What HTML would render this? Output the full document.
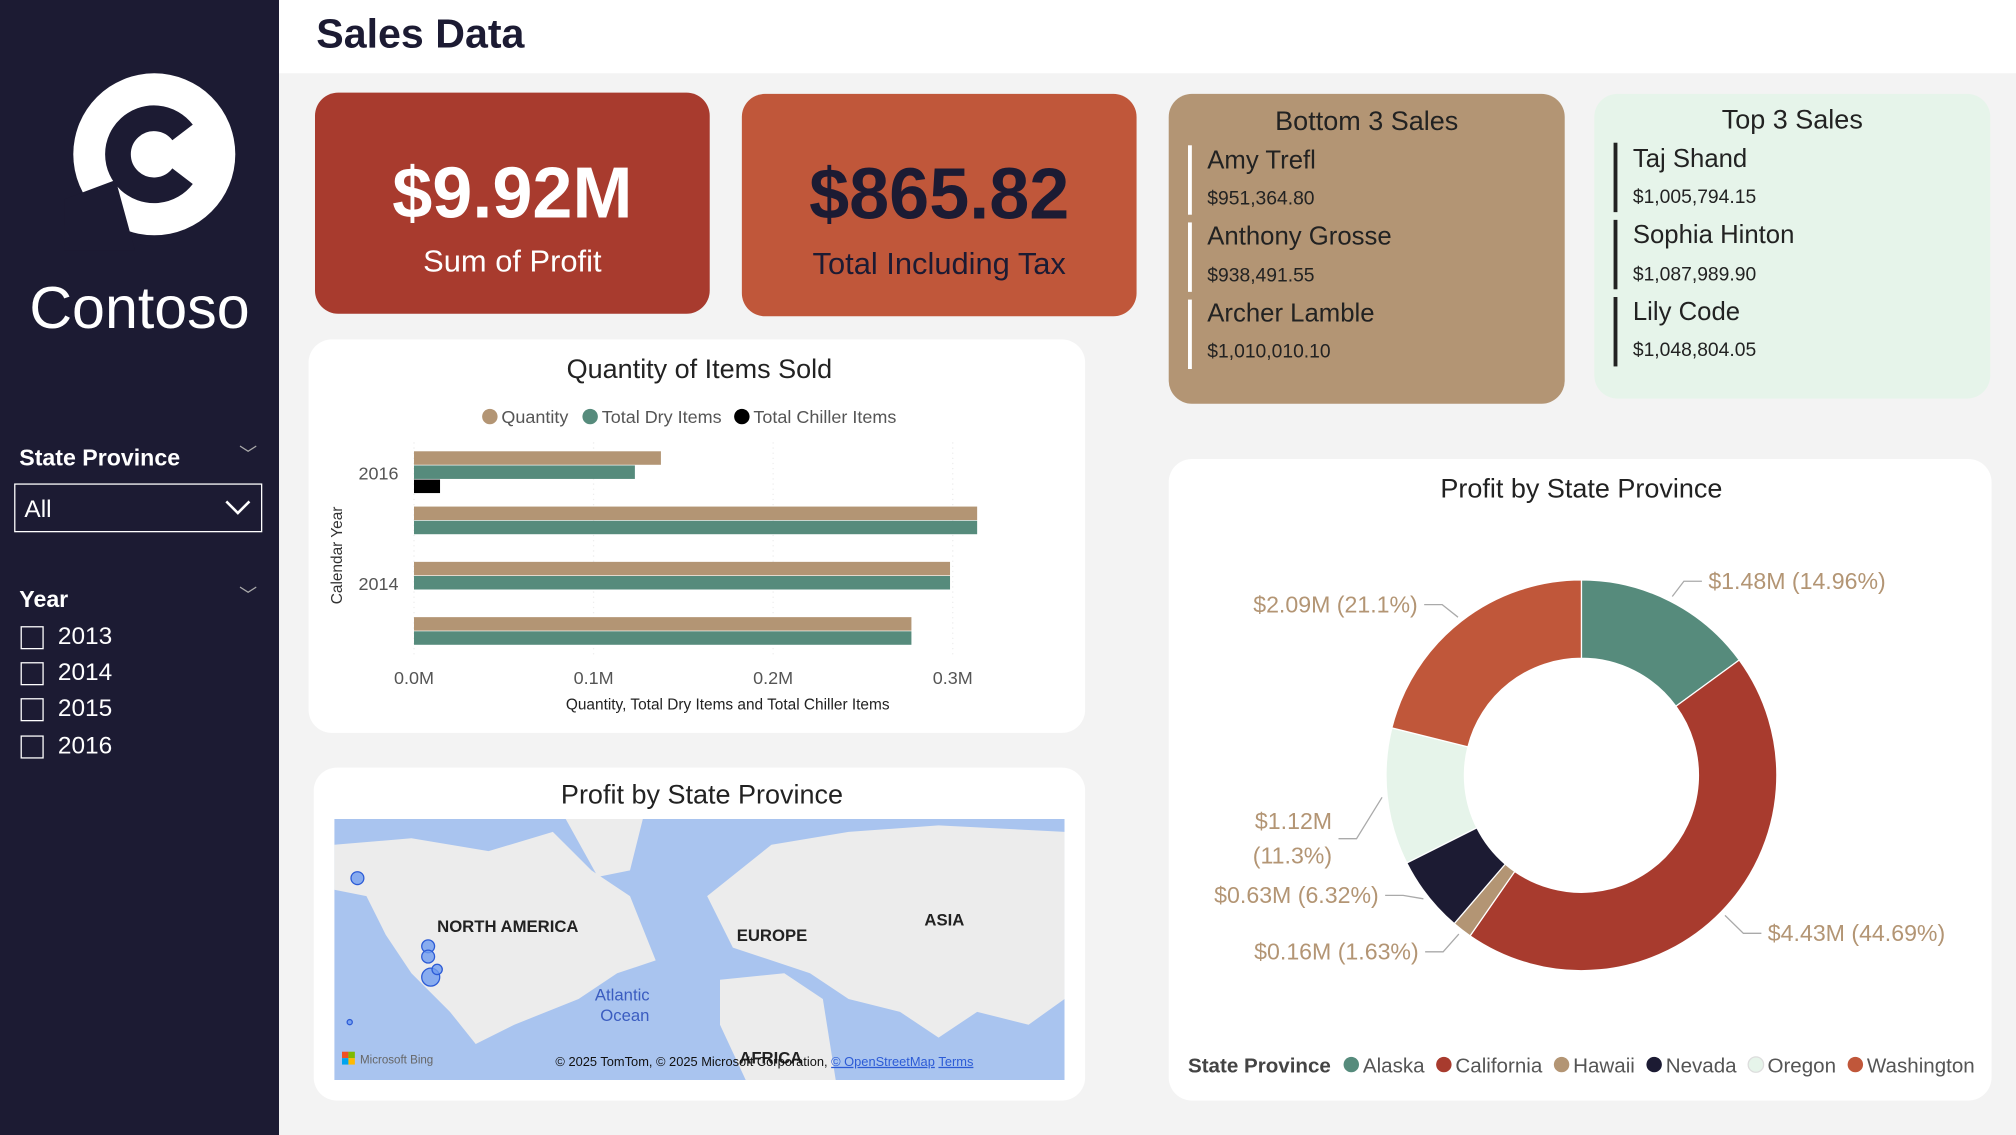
<!DOCTYPE html>
<html><head><meta charset="utf-8">
<style>
*{box-sizing:border-box;margin:0;padding:0}
html,body{width:2016px;height:1135px;overflow:hidden;background:#f3f3f3;font-family:"Liberation Sans",sans-serif}
#root{position:absolute;left:0;top:0;width:1568px;height:883px;transform:scale(1.285714);transform-origin:0 0;background:#f3f3f3}
.abs{position:absolute}
.card{position:absolute;border-radius:18px}
.kv{position:absolute;width:100%;text-align:center;color:#fff}
.nm{font-size:20px;color:#222;position:absolute;left:30px}
.am{font-size:15px;color:#222;position:absolute;left:30px}
.bar3{position:absolute;left:15px;width:3px;background:#fff}
.chk{position:absolute;left:16px;width:18px;height:18px;border:1.5px solid #fff}
.yl{position:absolute;left:45px;color:#fff;font-size:19px}
</style></head><body>
<div id="root">
<div class="abs" style="left:0;top:0;width:217px;height:883px;background:#1c1b33">
  <svg class="abs" style="left:50px;top:45px" width="140" height="150" viewBox="0 0 140 150">
    <circle cx="70" cy="75" r="63" fill="#fff"/>
    <path d="M92 58 A28 28 0 1 0 92 92" fill="none" stroke="#1c1b33" stroke-width="20"/>
    <path d="M0 110 L40 95 L55 150 L0 150Z" fill="#1c1b33"/>
  </svg>
  <div class="abs" style="left:0;width:217px;top:212px;text-align:center;color:#fff;font-size:46px">Contoso</div>
  <div class="abs" style="left:15px;top:346px;color:#fff;font-size:18px;font-weight:bold">State Province</div>
  <div class="abs" style="left:186px;top:343px;color:#aaa;font-size:14px">﹀</div>
  <div class="abs" style="left:11px;top:376px;width:193px;height:38px;border:1.5px solid #fff;color:#fff;font-size:19px;padding:9px 7px">All
    <svg class="abs" style="right:8px;top:12px" width="20" height="12"><path d="M1 1 L10 10 L19 1" stroke="#fff" stroke-width="2" fill="none"/></svg></div>
  <div class="abs" style="left:15px;top:456px;color:#fff;font-size:18px;font-weight:bold">Year</div>
  <div class="abs" style="left:186px;top:453px;color:#aaa;font-size:14px">﹀</div>
  <div class="chk" style="top:487px"></div><div class="yl" style="top:485px">2013</div>
  <div class="chk" style="top:515px"></div><div class="yl" style="top:513px">2014</div>
  <div class="chk" style="top:543px"></div><div class="yl" style="top:541px">2015</div>
  <div class="chk" style="top:572px"></div><div class="yl" style="top:570px">2016</div>
</div>
<div class="abs" style="left:217px;top:0;width:1351px;height:57px;background:#fff">
  <div class="abs" style="left:29px;top:8px;font-size:32px;font-weight:bold;color:#1c1b33">Sales Data</div>
</div>

<div class="card" style="left:245px;top:72px;width:307px;height:172px;background:#a83b2e">
  <div class="kv" style="top:45px;font-size:56px;font-weight:bold">$9.92M</div>
  <div class="kv" style="top:118px;font-size:24px">Sum of Profit</div>
</div>
<div class="card" style="left:577px;top:73px;width:307px;height:173px;background:#c0573a">
  <div class="kv" style="top:45px;font-size:56px;font-weight:bold;color:#1c1b33">$865.82</div>
  <div class="kv" style="top:119px;font-size:24px;color:#1c1b33">Total Including Tax</div>
</div>
<div class="card" style="left:909px;top:73px;width:308px;height:241px;background:#b39574">
  <div class="kv" style="top:10px;font-size:21px;color:#222">Bottom 3 Sales</div>
  <div class="bar3" style="top:40px;height:54px"></div><div class="bar3" style="top:100px;height:54px"></div><div class="bar3" style="top:160px;height:54px"></div>
  <div class="nm" style="top:41px">Amy Trefl</div><div class="am" style="top:73px">$951,364.80</div>
  <div class="nm" style="top:100px">Anthony Grosse</div><div class="am" style="top:133px">$938,491.55</div>
  <div class="nm" style="top:160px">Archer Lamble</div><div class="am" style="top:192px">$1,010,010.10</div>
</div>
<div class="card" style="left:1240px;top:73px;width:308px;height:237px;background:#e6f4ea">
  <div class="kv" style="top:9px;font-size:21px;color:#222">Top 3 Sales</div>
  <div class="bar3" style="top:38px;height:54px;background:#222"></div><div class="bar3" style="top:98px;height:54px;background:#222"></div><div class="bar3" style="top:158px;height:54px;background:#222"></div>
  <div class="nm" style="top:40px">Taj Shand</div><div class="am" style="top:72px">$1,005,794.15</div>
  <div class="nm" style="top:99px">Sophia Hinton</div><div class="am" style="top:132px">$1,087,989.90</div>
  <div class="nm" style="top:159px">Lily Code</div><div class="am" style="top:191px">$1,048,804.05</div>
</div>

<div class="card" style="left:240px;top:264px;width:604px;height:306px;background:#fff">
<svg id="barsvg" width="604" height="306" style="position:absolute;left:0;top:0;font-family:'Liberation Sans',sans-serif">
  <text x="304" y="30" text-anchor="middle" font-size="21" fill="#222">Quantity of Items Sold</text>
  <circle cx="141" cy="60" r="6" fill="#b39574"/><text x="150" y="65" font-size="14" fill="#555">Quantity</text>
  <circle cx="219" cy="60" r="6" fill="#568b7c"/><text x="228" y="65" font-size="14" fill="#555">Total Dry Items</text>
  <circle cx="337" cy="60" r="6" fill="#000"/><text x="346" y="65" font-size="14" fill="#555">Total Chiller Items</text>
  <text transform="translate(26,168) rotate(-90)" text-anchor="middle" font-size="12" fill="#333">Calendar Year</text>
  <text x="326" y="288" text-anchor="middle" font-size="12" fill="#222">Quantity, Total Dry Items and Total Chiller Items</text>
  <g id="bars"></g>
</svg>
</div>

<div class="card" style="left:244px;top:597px;width:600px;height:259px;background:#fff">
  <div class="abs" style="left:0;width:604px;top:10px;text-align:center;font-size:21px;color:#222">Profit by State Province</div>
  <svg class="abs" style="left:16px;top:40px" width="568" height="203" viewBox="0 0 568 203">
    <rect width="568" height="203" fill="#a9c4ef"/>
    <path d="M0 20 L60 15 L120 25 L170 10 L200 40 L230 60 L250 110 L220 120 L190 140 L140 160 L110 175 L90 150 L60 120 L40 90 L25 60 L0 55Z" fill="#ececec"/>
    <path d="M180 0 L240 0 L230 40 L205 45Z" fill="#ececec"/>
    <path d="M290 60 L340 20 L400 10 L470 5 L568 10 L568 140 L540 160 L500 150 L470 170 L440 150 L400 140 L370 120 L340 110 L310 100Z" fill="#ececec"/>
    <path d="M300 125 L350 120 L380 140 L390 203 L320 203 L300 160Z" fill="#ececec"/>
    <text x="80" y="88" font-size="13" font-weight="bold" fill="#222">NORTH AMERICA</text>
    <text x="313" y="95" font-size="13" font-weight="bold" fill="#222">EUROPE</text>
    <text x="459" y="83" font-size="13" font-weight="bold" fill="#222">ASIA</text>
    <text x="224" y="141" text-anchor="middle" font-size="13" fill="#3a5cc0">Atlantic</text>
    <text x="226" y="157" text-anchor="middle" font-size="13" fill="#3a5cc0">Ocean</text>
    <text x="315" y="190" font-size="13" font-weight="bold" fill="#222">AFRICA</text>
    <g fill="#6f9cf0" fill-opacity="0.8" stroke="#2c5bd6">
      <circle cx="18" cy="46" r="5"/><circle cx="73" cy="99" r="5"/><circle cx="73" cy="107" r="5"/><circle cx="75" cy="123" r="7"/><circle cx="80" cy="117" r="4"/><circle cx="12" cy="158" r="2"/>
    </g>
    <rect x="6" y="181" width="5" height="5" fill="#f25022"/><rect x="11" y="181" width="5" height="5" fill="#7fba00"/><rect x="6" y="186" width="5" height="5" fill="#00a4ef"/><rect x="11" y="186" width="5" height="5" fill="#ffb900"/>
    <text x="20" y="190" font-size="9" fill="#666">Microsoft Bing</text>
    <text x="172" y="192" font-size="10" fill="#111">© 2025 TomTom, © 2025 Microsoft Corporation, <tspan fill="#2c5bd6" text-decoration="underline">© OpenStreetMap</tspan>  <tspan fill="#2c5bd6" text-decoration="underline">Terms</tspan></text>
  </svg>
</div>

<div class="card" style="left:909px;top:357px;width:640px;height:499px;background:#fff">
<svg id="donut" width="640" height="499" style="position:absolute;left:0;top:0;font-family:'Liberation Sans',sans-serif">
  <text x="321" y="30" text-anchor="middle" font-size="21" fill="#222">Profit by State Province</text>
  <g id="slices"></g>
  <g id="dlabels" font-size="18" fill="#b39574"></g>
  <g id="dlegend" font-size="16" fill="#555"><text x="15" y="477" font-weight="bold" fill="#444">State Province</text></g>
</svg>
</div>
</div>
<script>
// bar chart data
const years = ['2016','2015','2014','2013'];
const yearLabels = ['2016','','2014',''];
const quantity = [0.1375, 0.3136, 0.2985, 0.2770];
const dryItems = [0.1230, 0.3136, 0.2985, 0.2770];
const chillerItems = [0.0145, 0, 0, 0];
const xTicks = [0, 0.1, 0.2, 0.3];
const xTickLabels = ['0.0M','0.1M','0.2M','0.3M'];

// donut data
const states = ['Alaska','California','Hawaii','Nevada','Oregon','Washington'];
const profitPct = [14.96, 44.69, 1.63, 6.32, 11.3, 21.1];
const profitLabels = ['$1.48M (14.96%)','$4.43M (44.69%)','$0.16M (1.63%)','$0.63M (6.32%)','$1.12M|(11.3%)','$2.09M (21.1%)'];
const stateColors = ['#568b7c','#a83b2e','#b39574','#1c1b33','#e6f4ea','#c0573a'];
const labelNudge = [6, 0, -2, -15, 30, 6];

const NS='http://www.w3.org/2000/svg';
function mk(tag,attrs,parent){const e=document.createElementNS(NS,tag);for(const k in attrs)e.setAttribute(k,attrs[k]);parent.appendChild(e);return e;}

(function(){
  const g=document.getElementById('bars');
  const x0=82, pxPerM=1396.7, yTop=87, groupH=43, barH=11;
  const xs=v=>x0+v*pxPerM;
  xTicks.forEach((t,i)=>{
    mk('line',{x1:xs(t),x2:xs(t),y1:80,y2:245,stroke:'#eee','stroke-dasharray':'1 3'},g);
    const tx=mk('text',{x:xs(t),y:268,'text-anchor':'middle','font-size':14,fill:'#555'},g);tx.textContent=xTickLabels[i];
    
    
  });
  years.forEach((y,i)=>{
    const gy=yTop+i*groupH;
    const series=[[quantity[i],'#b39574'],[dryItems[i],'#568b7c'],[chillerItems[i],'#000']];
    series.forEach((s,j)=>{
      if(s[0]<=0)return;
      const r=mk('rect',{x:x0,y:gy+j*barH,width:s[0]*pxPerM,height:barH-0.5,fill:s[1]},g);
      
      
    });
    if(yearLabels[i]){const t=mk('text',{x:70,y:gy+22,'text-anchor':'end','font-size':14,fill:'#555'},g);t.textContent=yearLabels[i];
      
      }
  });
})();

(function(){
  const g=document.getElementById('slices'), L=document.getElementById('dlabels'), lg=document.getElementById('dlegend');
  const cx=321, cy=246, R=152, r=91;
  const total=profitPct.reduce((a,b)=>a+b,0);
  let a=0;
  const pt=(ang,rad)=>[cx+rad*Math.sin(ang), cy-rad*Math.cos(ang)];
  profitPct.forEach((p,i)=>{
    const a1=a+p/total*2*Math.PI, big=(a1-a)>Math.PI?1:0;
    const [x1,y1]=pt(a,R),[x2,y2]=pt(a1,R),[x3,y3]=pt(a1,r),[x4,y4]=pt(a,r);
    const s=mk('path',{d:`M${x1} ${y1}A${R} ${R} 0 ${big} 1 ${x2} ${y2}L${x3} ${y3}A${r} ${r} 0 ${big} 0 ${x4} ${y4}Z`,fill:stateColors[i],stroke:'#fff','stroke-width':1},g);
    
    
    const mid=(a+a1)/2, [lx1,ly1]=pt(mid,R+4), [lx2,ly2raw]=pt(mid,R+24);
    const ly2=ly2raw+labelNudge[i];
    const right=Math.sin(mid)>=0;
    const lx3=lx2+(right?14:-14);
    mk('polyline',{points:`${lx1},${ly1} ${lx2},${ly2} ${lx3},${ly2}`,fill:'none',stroke:'#aaa'},L);
    const parts=profitLabels[i].split('|');
    parts.forEach((tx,k)=>{
      const t=mk('text',{x:lx3+(right?5:-5),y:ly2+6+(k-(parts.length-1)/2)*27,'text-anchor':right?'start':'end'},L);
      t.textContent=tx;
      
      
    });
    a=a1;
  });
  let x=137;
  states.forEach((s,i)=>{
    mk('circle',{cx:x+5,cy:471,r:6,fill:stateColors[i],stroke:i==4?'#ddd':'none'},lg);
    const t=mk('text',{x:x+14,y:477},lg);t.textContent=s;
    
    
    x+=14+t.getComputedTextLength()+10;
  });
})();
</script>
</body></html>
